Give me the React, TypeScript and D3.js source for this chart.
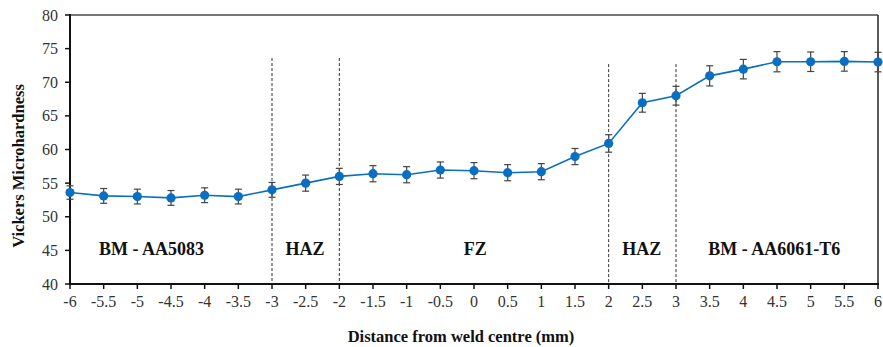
import React from "react";
import * as d3 from "d3";

const xs = [-6, -5.5, -5, -4.5, -4, -3.5, -3, -2.5, -2, -1.5, -1, -0.5, 0, 0.5, 1, 1.5, 2, 2.5, 3, 3.5, 4, 4.5, 5, 5.5, 6];
const hardness = [53.6, 53.1, 53.0, 52.8, 53.2, 53.0, 54.0, 55.0, 56.0, 56.4, 56.25, 56.95, 56.85, 56.55, 56.7, 58.95, 60.9, 66.95, 68.0, 70.95, 71.95, 73.05, 73.05, 73.1, 73.0];
const errors = [1.0, 1.1, 1.1, 1.1, 1.1, 1.1, 1.1, 1.2, 1.2, 1.2, 1.2, 1.2, 1.2, 1.2, 1.2, 1.2, 1.3, 1.4, 1.4, 1.5, 1.45, 1.5, 1.45, 1.45, 1.45];
const xTicks = [-6, -5.5, -5, -4.5, -4, -3.5, -3, -2.5, -2, -1.5, -1, -0.5, 0, 0.5, 1, 1.5, 2, 2.5, 3, 3.5, 4, 4.5, 5, 5.5, 6];
const yTicks = [40, 45, 50, 55, 60, 65, 70, 75, 80];
const boundaries = [-3, -2, 2, 3];
const boundaryTops = [73.6, 73.6, 72.7, 72.7];
const zoneLabels = ["BM - AA5083", "HAZ", "FZ", "HAZ", "BM - AA6061-T6"];
const zoneCenters = [-4.79, -2.51, 0.02, 2.49, 4.46];
const zoneY = 44.3;

const W = 883;
const H = 347;
const L = 70, R = 878, T = 15, B = 284;
const font = "Liberation Serif";
const blue = "#0a6fc2";

export default function App() {
  const x = d3.scaleLinear().domain([-6, 6]).range([L, R]);
  const y = d3.scaleLinear().domain([40, 80]).range([B, T]);
  const line = d3.line<number>().x((_, i) => x(xs[i])).y((d) => y(d));
  const tf = { fontFamily: font };
  return (
    <svg width={W} height={H} style={{ position: "absolute", left: 0, top: 0, background: "#fff" }}>
      <line x1={L} x2={R} y1={T} y2={T} stroke="#777" strokeWidth={2} />
      <line x1={R} x2={R} y1={T} y2={B} stroke="#222" strokeWidth={1.5} />
      {boundaries.map((b, i) => (
        <line key={"b" + i} x1={x(b)} x2={x(b)} y1={y(boundaryTops[i])} y2={B} stroke="#333" strokeWidth={1} strokeDasharray="3,2" />
      ))}
      <line x1={L} x2={L} y1={T - 1} y2={B + 1} stroke="#111" strokeWidth={2} />
      <line x1={L - 1} x2={R + 1} y1={B} y2={B} stroke="#111" strokeWidth={2} />
      {yTicks.map((t) => (
        <g key={"y" + t}>
          <line x1={L - 5} x2={L} y1={y(t)} y2={y(t)} stroke="#111" strokeWidth={1.5} />
          <text x={L - 12} y={y(t)} dy="0.35em" textAnchor="end" style={tf} fontSize={16} fill="#333">{t}</text>
        </g>
      ))}
      {xTicks.map((t) => (
        <g key={"x" + t}>
          <line x1={x(t)} x2={x(t)} y1={B} y2={B + 5} stroke="#111" strokeWidth={1.5} />
          <text x={x(t)} y={B + 22.5} textAnchor="middle" style={tf} fontSize={16} fill="#333">{t}</text>
        </g>
      ))}
      {zoneLabels.map((s, i) => (
        <text key={"z" + i} x={x(zoneCenters[i])} y={y(zoneY)} textAnchor="middle" style={tf} fontWeight="bold" fontSize={18} fill="#111">{s}</text>
      ))}
      <path d={line(hardness) || ""} fill="none" stroke={blue} strokeWidth={1.6} />
      {hardness.map((v, i) => (
        <g key={"e" + i} stroke="#444" strokeWidth={1.2}>
          <line x1={x(xs[i])} x2={x(xs[i])} y1={y(v + errors[i])} y2={y(v - errors[i])} />
          <line x1={x(xs[i]) - 3.5} x2={x(xs[i]) + 3.5} y1={y(v + errors[i])} y2={y(v + errors[i])} />
          <line x1={x(xs[i]) - 3.5} x2={x(xs[i]) + 3.5} y1={y(v - errors[i])} y2={y(v - errors[i])} />
        </g>
      ))}
      {hardness.map((v, i) => (
        <circle key={"c" + i} cx={x(xs[i])} cy={y(v)} r={4.6} fill={blue} />
      ))}
      <text x={461} y={342} textAnchor="middle" style={tf} fontWeight="bold" fontSize={16.5} fill="#111">Distance from weld centre (mm)</text>
      <text transform={`translate(24,166) rotate(-90)`} textAnchor="middle" style={tf} fontWeight="bold" fontSize={16.5} fill="#111">Vickers Microhardness</text>
    </svg>
  );
}
